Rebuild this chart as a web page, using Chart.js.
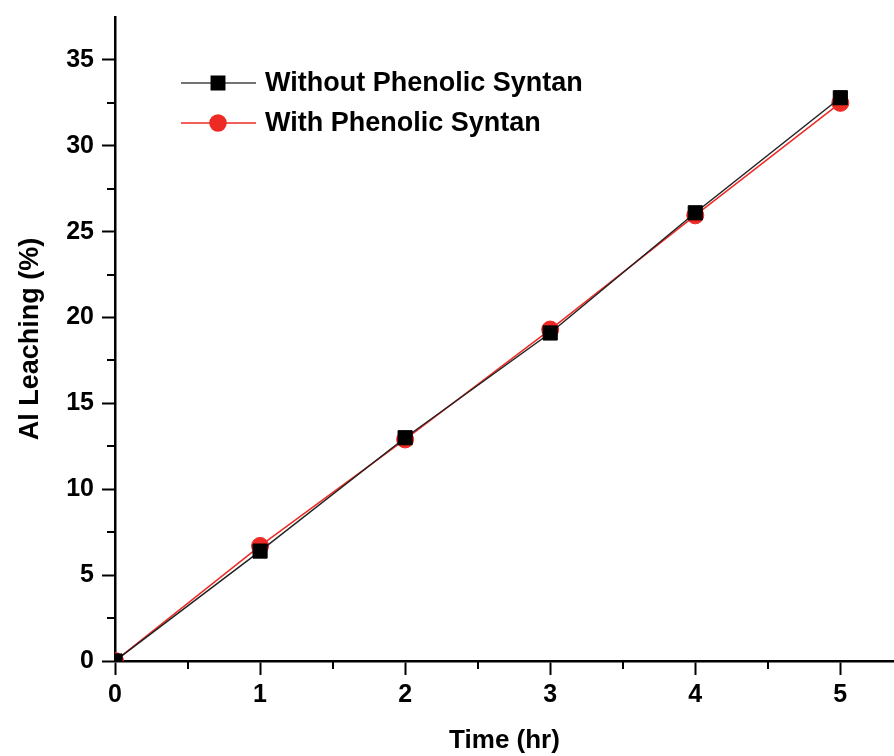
<!DOCTYPE html>
<html><head><meta charset="utf-8">
<script src="https://cdn.jsdelivr.net/npm/chart.js@4.4.1/dist/chart.umd.min.js"></script>
<style>html,body{margin:0;padding:0;background:#fff;}</style>
</head><body>
<canvas id="c" width="894" height="756" style="display:block;width:894px;height:756px"></canvas>
<script>
const times = [0, 1, 2, 3, 4, 5];
const withoutSyntan = [0, 6.4, 13.0, 19.1, 26.1, 32.8];
const withSyntan = [0, 6.7, 12.9, 19.3, 25.95, 32.5];
const seriesLabels = ['Without Phenolic Syntan', 'With Phenolic Syntan'];
const xTitle = 'Time (hr)';
const yTitle = 'Al Leaching (%)';
const xMinorTicks = [0.5, 1.5, 2.5, 3.5, 4.5];
const yMinorTicks = [2.5, 7.5, 12.5, 17.5, 22.5, 27.5, 32.5];

const FONT = '"Liberation Sans", Arial, sans-serif';
const RED = '#ee2a24';

const minorTicks = {
  id: 'minorTicks',
  afterDraw(chart) {
    const {ctx, chartArea, scales: {x, y}} = chart;
    ctx.save();
    ctx.strokeStyle = '#000';
    ctx.lineWidth = 2;
    xMinorTicks.forEach(v => {
      const px = Math.round(x.getPixelForValue(v));
      ctx.beginPath(); ctx.moveTo(px, chartArea.bottom); ctx.lineTo(px, chartArea.bottom + 8); ctx.stroke();
    });
    yMinorTicks.forEach(v => {
      const py = Math.round(y.getPixelForValue(v));
      ctx.beginPath(); ctx.moveTo(chartArea.left, py); ctx.lineTo(chartArea.left - 8, py); ctx.stroke();
    });
    ctx.restore();
  }
};

const customLegend = {
  id: 'customLegend',
  afterDraw(chart) {
    const ctx = chart.ctx;
    chart.data.datasets.forEach((ds, i) => {
      const y = 83 + i * 40;
      ctx.save();
      ctx.strokeStyle = ds.legendLine;
      ctx.lineWidth = 1.5;
      ctx.beginPath(); ctx.moveTo(181, y); ctx.lineTo(256, y); ctx.stroke();
      ctx.fillStyle = ds.pointBackgroundColor;
      ctx.strokeStyle = ds.pointBorderColor;
      Chart.helpers.drawPoint(ctx, {pointStyle: ds.pointStyle, radius: ds.legendRadius, borderWidth: 1, rotation: 0}, 218, y);
      ctx.fillStyle = '#000';
      ctx.font = 'bold 27px ' + FONT;
      ctx.textBaseline = 'middle';
      ctx.textAlign = 'left';
      ctx.fillText(ds.label, 265, y + 1);
      ctx.restore();
    });
  }
};

new Chart(document.getElementById('c'), {
  type: 'line',
  data: {
    datasets: [
      {
        label: seriesLabels[0],
        data: times.map((t, i) => ({x: t, y: withoutSyntan[i]})),
        borderColor: '#222',
        legendLine: '#444',
        borderWidth: 1.5,
        pointStyle: 'rect',
        pointRadius: 10,
        legendRadius: 9.5,
        pointBackgroundColor: '#000',
        pointBorderColor: '#000',
        pointBorderWidth: 1,
        tension: 0
      },
      {
        label: seriesLabels[1],
        data: times.map((t, i) => ({x: t, y: withSyntan[i]})),
        borderColor: RED,
        legendLine: RED,
        borderWidth: 1.5,
        pointStyle: 'circle',
        pointRadius: 8.5,
        legendRadius: 8,
        pointBackgroundColor: RED,
        pointBorderColor: RED,
        pointBorderWidth: 1,
        tension: 0
      }
    ]
  },
  options: {
    responsive: false,
    animation: false,
    events: [],
    layout: {autoPadding: false, padding: {top: 17, left: 0, right: 0, bottom: 0}},
    plugins: {legend: {display: false}, tooltip: {enabled: false}},
    scales: {
      x: {
        type: 'linear',
        min: 0, max: 5.37,
        afterFit(s) { s.height = 95; s.paddingLeft = 0; s.paddingRight = 0; },
        border: {display: true, color: '#000', width: 2.5},
        grid: {display: true, drawOnChartArea: false, drawTicks: true, tickLength: 14, tickWidth: 2, tickColor: '#000'},
        ticks: {stepSize: 1, includeBounds: false, color: '#000', font: {family: FONT, size: 25, weight: 'bold'}, padding: 5},
        title: {display: true, text: xTitle, color: '#000', font: {family: FONT, size: 26, weight: 'bold'}, padding: {top: 0, bottom: 0}}
      },
      y: {
        type: 'linear',
        min: 0, max: 37.5,
        afterFit(s) { s.width = 115; s.paddingTop = 0; s.paddingBottom = 0; },
        border: {display: true, color: '#000', width: 2.5},
        grid: {display: true, drawOnChartArea: false, drawTicks: true, tickLength: 13, tickWidth: 2, tickColor: '#000'},
        ticks: {stepSize: 5, includeBounds: false, color: '#000', font: {family: FONT, size: 25, weight: 'bold'}, padding: 8},
        title: {display: true, text: yTitle, color: '#000', font: {family: FONT, size: 27, weight: 'bold'}, padding: {top: 14, bottom: 0}}
      }
    }
  },
  plugins: [minorTicks, customLegend]
});
</script>
</body></html>
